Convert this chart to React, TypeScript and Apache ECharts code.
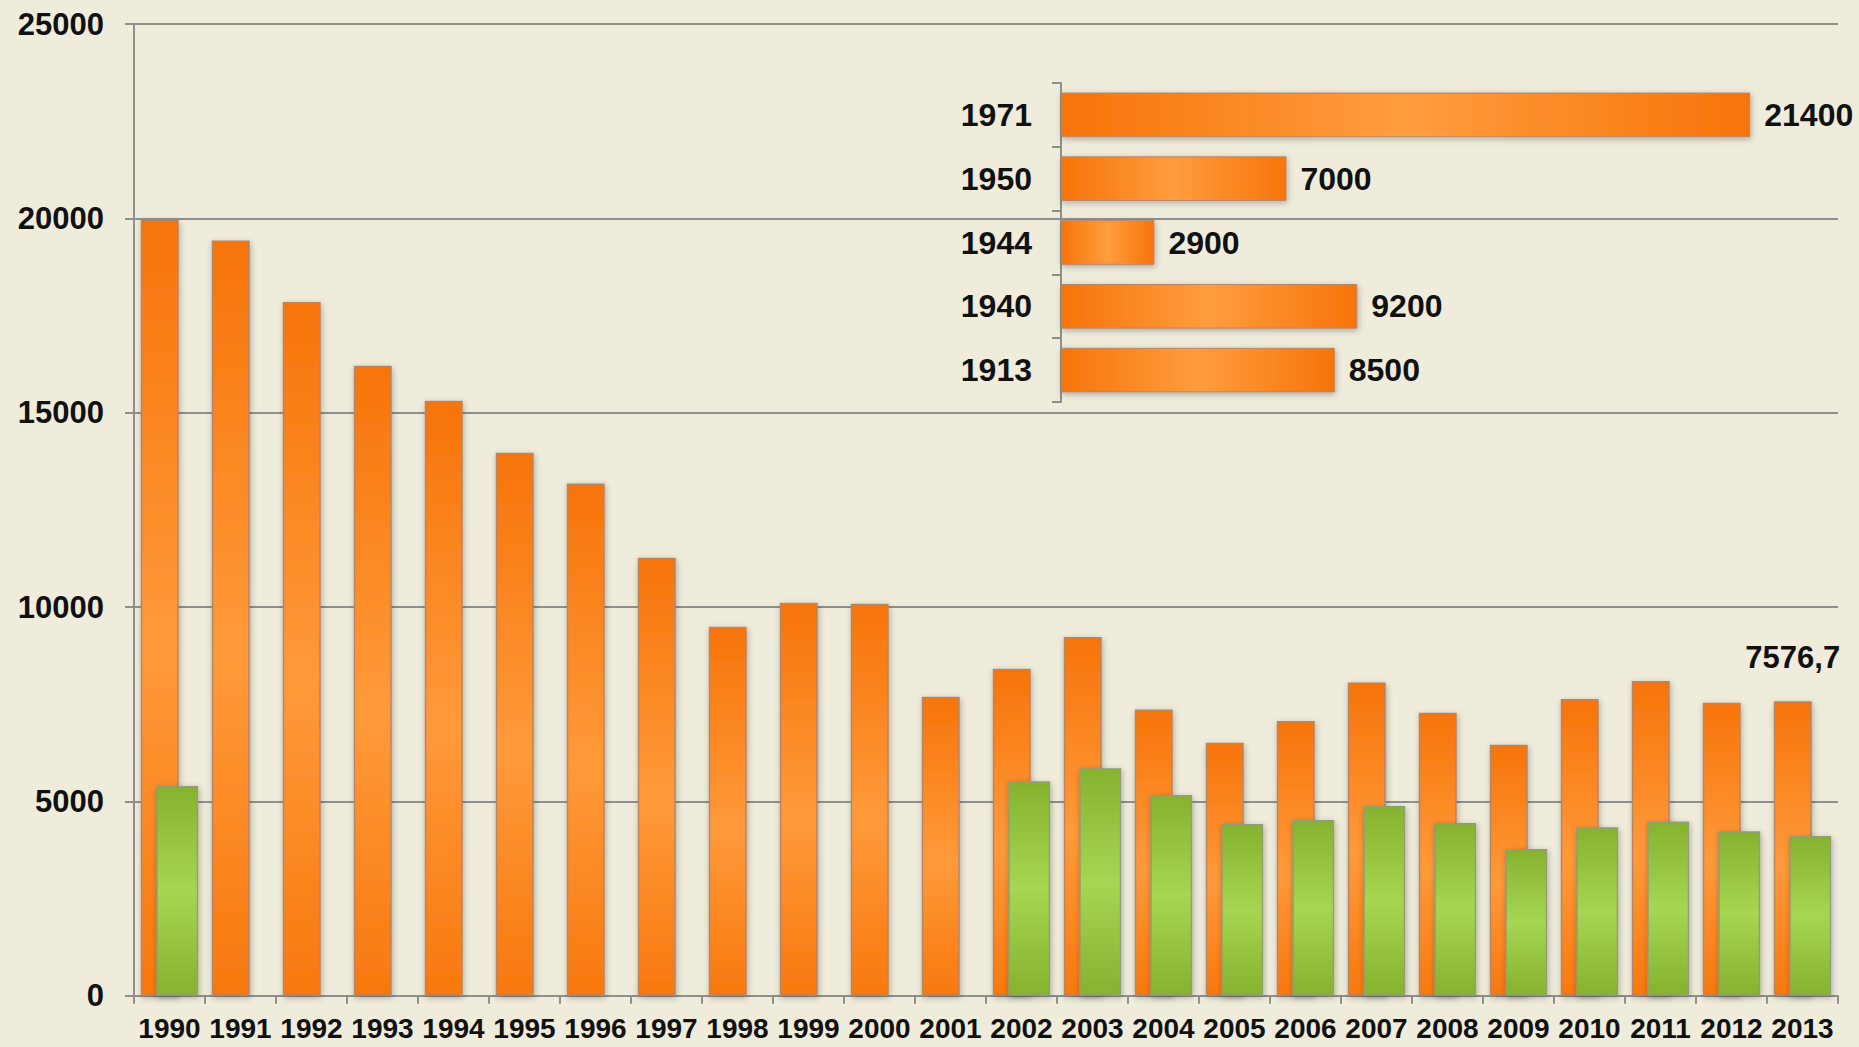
import React, { useEffect, useRef } from "react";
import * as echarts from "echarts";

const years = ["1990","1991","1992","1993","1994","1995","1996","1997","1998","1999","2000","2001","2002","2003","2004","2005","2006","2007","2008","2009","2010","2011","2012","2013"];
const orangeValues = [19970,19430,17850,16210,15310,13970,13175,11270,9495,10110,10085,7690,8410,9230,7365,6505,7070,8055,7280,6455,7635,8095,7540,7576.7];
const greenValues: (number | null)[] = [5395,null,null,null,null,null,null,null,null,null,null,null,5520,5855,5165,4420,4520,4880,4445,3775,4335,4485,4230,4110];
const labelledIndex = 23;

const insetYears = ["1971","1950","1944","1940","1913"];
const insetValues = [21400,7000,2900,9200,8500];

const yTicks = { min: 0, max: 25000, interval: 5000 };

const FONT = "'Liberation Sans', Arial, sans-serif";
const GRID_GRAY = "#8f8f8f";

export default function App() {
  const ref = useRef<HTMLDivElement>(null);
  useEffect(() => {
    document.body.style.margin = "0";
    const chart = echarts.init(ref.current!, null, { renderer: "svg" });
    const orangeV = new echarts.graphic.LinearGradient(0, 0, 0, 1, [
      { offset: 0, color: "#f7740a" },
      { offset: 0.55, color: "#ff9a3a" },
      { offset: 1, color: "#f8780e" },
    ]);
    const greenV = new echarts.graphic.LinearGradient(0, 0, 0, 1, [
      { offset: 0, color: "#86b22e" },
      { offset: 0.5, color: "#a6d652" },
      { offset: 1, color: "#86b22e" },
    ]);
    const orangeH = new echarts.graphic.LinearGradient(0, 0, 1, 0, [
      { offset: 0, color: "#f7740a" },
      { offset: 0.5, color: "#ff9d3e" },
      { offset: 1, color: "#f7740a" },
    ]);
    const barShadow = {
      shadowBlur: 6,
      shadowColor: "rgba(0,0,0,0.28)",
      shadowOffsetX: 1,
      shadowOffsetY: 2,
    };
    chart.setOption({
      animation: false,
      backgroundColor: "#efecdb",
      textStyle: { fontFamily: FONT },
      grid: [
        { left: 134, right: 21, top: 24, bottom: 51.3, containLabel: false },
        { left: 1061, top: 83, height: 319, width: 773, containLabel: false },
      ],
      xAxis: [
        {
          type: "category",
          gridIndex: 0,
          data: years,
          boundaryGap: true,
          axisLine: { show: true, lineStyle: { color: GRID_GRAY, width: 2 } },
          axisTick: { show: true, length: 8, alignWithLabel: false, lineStyle: { color: GRID_GRAY, width: 2 } },
          axisLabel: { interval: 0, margin: 19, fontSize: 28, fontWeight: "bold", color: "#111", fontFamily: FONT },
        },
        {
          type: "value",
          gridIndex: 1,
          min: 0,
          max: 24000,
          show: false,
          splitLine: { show: false },
        },
      ],
      yAxis: [
        {
          type: "value",
          gridIndex: 0,
          min: yTicks.min,
          max: yTicks.max,
          interval: yTicks.interval,
          axisLine: { show: true, lineStyle: { color: GRID_GRAY, width: 2 } },
          axisTick: { show: true, length: 9, lineStyle: { color: GRID_GRAY, width: 2 } },
          splitLine: { show: true, lineStyle: { color: GRID_GRAY, width: 2 } },
          axisLabel: {
            margin: 30,
            fontSize: 31,
            fontWeight: "bold",
            color: "#111",
            fontFamily: FONT,
            formatter: (v: number) => String(v),
          },
        },
        {
          type: "category",
          gridIndex: 1,
          data: insetYears,
          inverse: true,
          axisLine: { show: true, lineStyle: { color: GRID_GRAY, width: 2 } },
          axisTick: { show: true, length: 9, lineStyle: { color: GRID_GRAY, width: 2 } },
          axisLabel: { margin: 29, fontSize: 32, fontWeight: "bold", color: "#111", fontFamily: FONT },
        },
      ],
      series: [
        {
          type: "bar",
          xAxisIndex: 0,
          yAxisIndex: 0,
          data: orangeValues.map((v, i) =>
            i === labelledIndex
              ? {
                  value: v,
                  label: {
                    show: true,
                    position: "top",
                    distance: 28,
                    formatter: String(v).replace(".", ","),
                    fontSize: 31,
                    fontWeight: "bold",
                    color: "#111",
                    fontFamily: FONT,
                  },
                }
              : v
          ),
          barWidth: 38,
          barGap: "-59.2%",
          itemStyle: { color: orangeV, borderColor: "#b98462", borderWidth: 1.5, ...barShadow },
          z: 2,
        },
        {
          type: "bar",
          xAxisIndex: 0,
          yAxisIndex: 0,
          data: greenValues,
          barWidth: 42,
          barGap: "-59.2%",
          itemStyle: { color: greenV, borderColor: "#8e9f74", borderWidth: 1.5, ...barShadow },
          z: 3,
        },
        {
          type: "bar",
          xAxisIndex: 1,
          yAxisIndex: 1,
          data: insetValues,
          barCategoryGap: "30%",
          itemStyle: { color: orangeH, borderColor: "#b98462", borderWidth: 1, ...barShadow },
          label: {
            show: true,
            position: "right",
            distance: 14,
            fontSize: 32,
            fontWeight: "bold",
            color: "#111",
            fontFamily: FONT,
          },
          z: 4,
        },
      ],
    });
    return () => chart.dispose();
  }, []);
  return (
    <div
      ref={ref}
      style={{ position: "absolute", left: 0, top: 0, width: 1859, height: 1047, background: "#efecdb" }}
    />
  );
}
